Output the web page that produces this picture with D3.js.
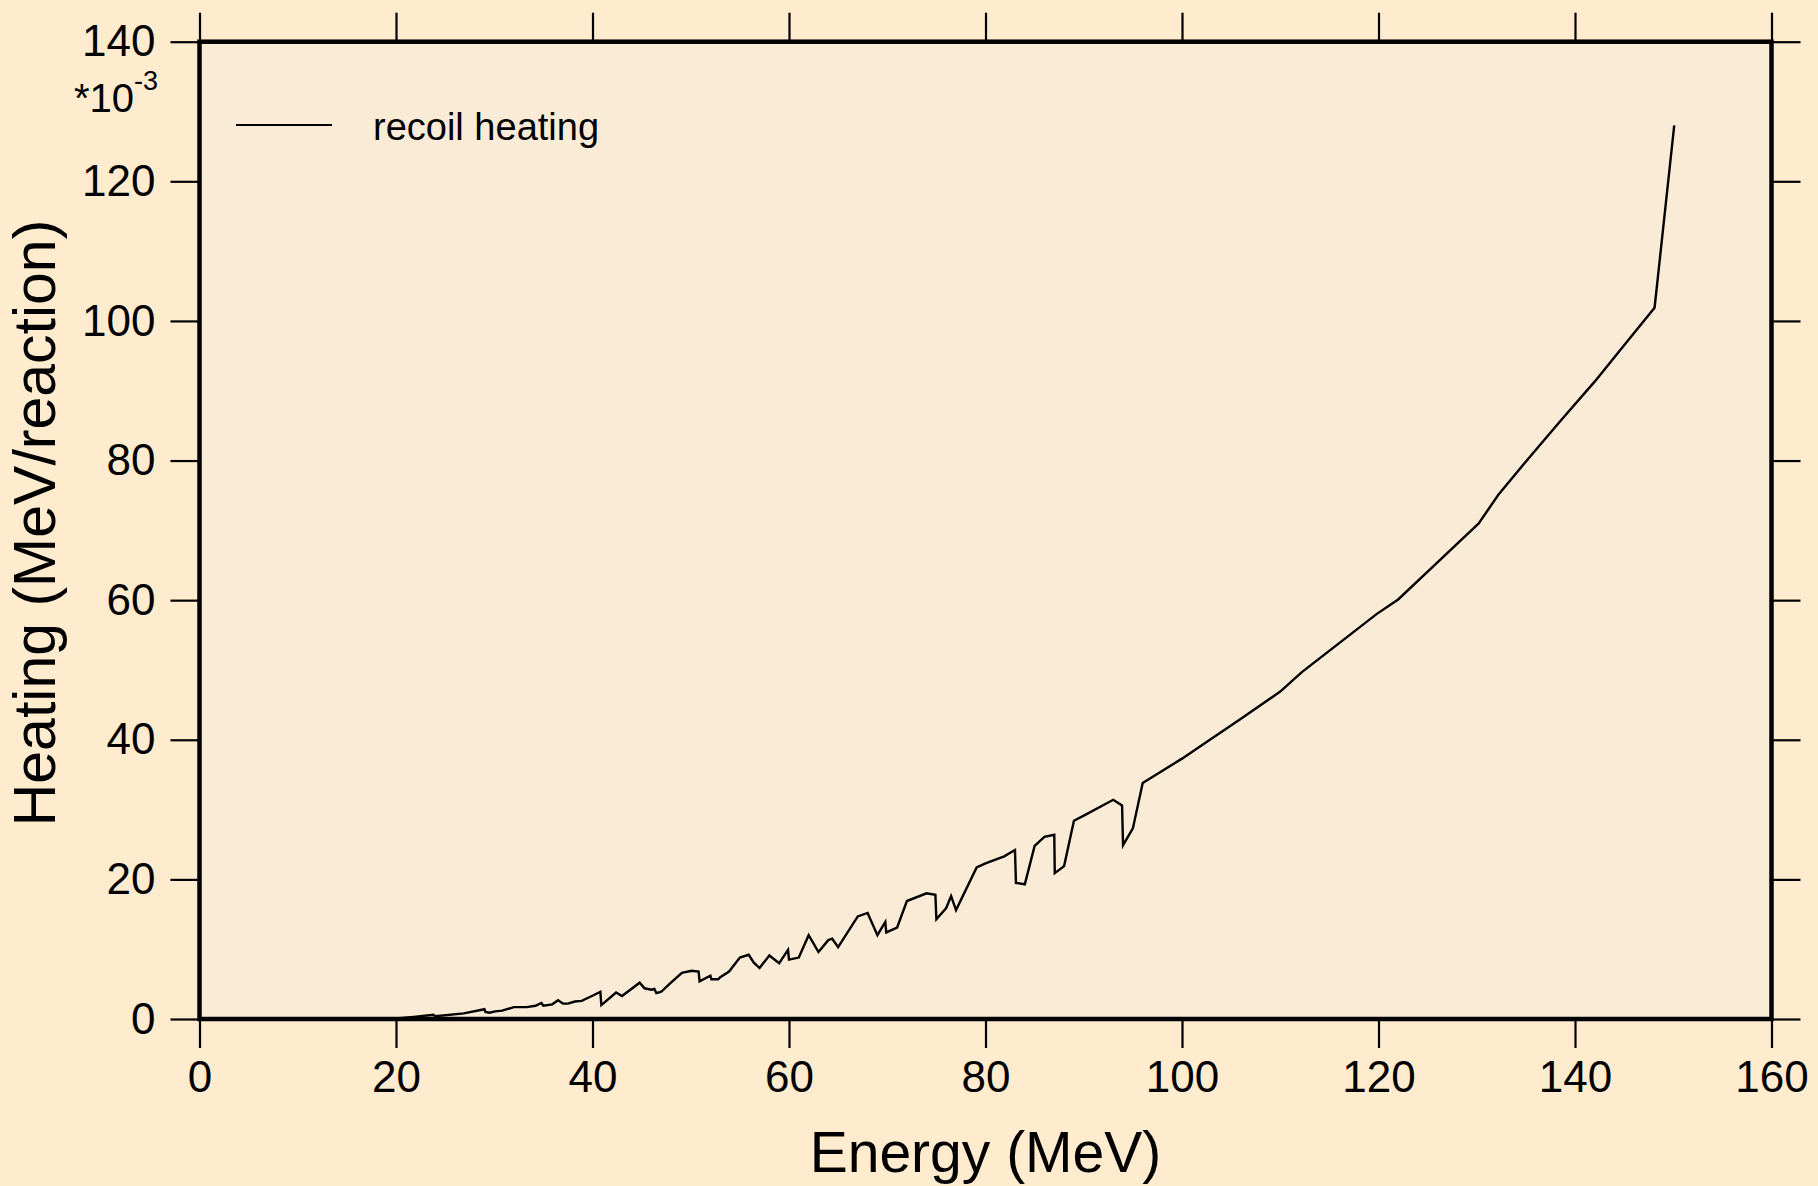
<!DOCTYPE html>
<html>
<head>
<meta charset="utf-8">
<script src="https://cdn.jsdelivr.net/npm/d3@7"></script>
<style>
  html, body { margin: 0; padding: 0; background: #FFEBCD; }
  svg { display: block; font-family: "Liberation Sans", Arial, sans-serif; }
</style>
</head>
<body>
<svg id="chart" width="1818" height="1186"></svg>
<script>
// ---- data ----
const energy = [19.5, 21.8, 23.8, 24.0, 26.9, 29.0, 29.1, 29.5, 30.1, 30.8, 32.0, 33.3, 34.2, 34.8, 35.0, 35.9, 36.5, 37.0, 37.5, 38.2, 38.9,
  40.1, 40.8, 40.9, 42.4, 43.0, 44.8, 45.3, 46.0, 46.3, 46.5, 47.0, 47.9, 49.1, 50.1, 50.8, 50.9, 52.0, 52.1, 52.8, 53.0, 53.9,
  55.0, 55.9, 56.4, 57.0, 58.0, 59.0, 59.9, 60.0, 61.0, 62.0, 63.0, 64.0, 64.4, 65.0, 67.0, 68.0, 69.0, 69.8, 69.9, 71.0, 72.0,
  74.0, 74.9, 75.0, 76.0, 76.5, 77.0, 79.1, 80.0, 81.9, 83.0, 83.1, 84.0, 85.0, 86.0, 87.0, 87.05, 88.0, 89.0, 90.1, 93.0, 93.9,
  94.0, 95.0, 96.0, 100.0, 102.2, 106.0, 110.0, 112.2, 119.8, 122.0, 126.0, 130.2, 132.2, 135.2, 138.6, 142.0, 145.0, 148.1, 150.1];
const heating = [0.0, 0.3, 0.6, 0.4, 0.8, 1.4, 1.0, 0.9, 1.1, 1.2, 1.7, 1.7, 1.9, 2.3, 1.9, 2.1, 2.7, 2.2, 2.2, 2.5, 2.6,
  3.4, 3.9, 2.0, 3.8, 3.3, 5.2, 4.4, 4.2, 4.3, 3.7, 3.9, 5.1, 6.6, 6.9, 6.8, 5.4, 6.2, 5.7, 5.7, 6.0, 6.8,
  8.8, 9.2, 8.1, 7.3, 9.1, 8.0, 9.9, 8.5, 8.8, 12.0, 9.6, 11.3, 11.5, 10.3, 14.7, 15.2, 12.0, 13.9, 12.4, 13.1, 16.9,
  18.0, 17.8, 14.3, 15.9, 17.6, 15.6, 21.7, 22.3, 23.3, 24.2, 19.5, 19.3, 24.8, 26.1, 26.4, 20.9, 21.9, 28.4, 29.2, 31.4, 30.6,
  24.9, 27.3, 33.8, 37.3, 39.4, 43.0, 46.9, 49.7, 58.0, 60.1, 65.4, 71.0, 75.1, 80.2, 85.8, 91.3, 96.5, 101.9, 128.0];
const xTicks = [0, 20, 40, 60, 80, 100, 120, 140, 160];
const yTicks = [0, 20, 40, 60, 80, 100, 120, 140];
const xTitle = "Energy (MeV)";
const yTitle = "Heating (MeV/reaction)";
const legendLabel = "recoil heating";
const multiplierBase = "*10";
const multiplierExp = "-3";

// ---- layout ----
const svg = d3.select("#chart");
const L = 199.5, R = 1771.5, T = 41.7, B = 1019;
const x = d3.scaleLinear().domain([0, 160]).range([L, R]);
const y = d3.scaleLinear().domain([0, 140]).range([B, T]);

svg.append("rect").attr("width", 1818).attr("height", 1186).attr("fill", "#FFEBCD");
svg.append("rect").attr("x", L).attr("y", T).attr("width", R - L).attr("height", B - T).attr("fill", "#FAEBD7");

const tickLen = 29;
function styleAxis(g, showLabels) {
  g.select(".domain").remove();
  g.selectAll(".tick line").attr("stroke", "#000").attr("stroke-width", 2.2);
  g.selectAll(".tick text").attr("fill", "#000").attr("font-size", 44)
    .attr("font-family", "'Liberation Sans', Arial, sans-serif");
  if (!showLabels) g.selectAll(".tick text").remove();
}

svg.append("g").attr("transform", `translate(0,${B})`)
  .call(d3.axisBottom(x).tickValues(xTicks).tickSize(tickLen).tickPadding(13).tickFormat(d3.format("d")))
  .call(g => styleAxis(g, true));
svg.append("g").attr("transform", `translate(0,${T})`)
  .call(d3.axisTop(x).tickValues(xTicks).tickSize(tickLen).tickFormat(""))
  .call(g => styleAxis(g, false));
svg.append("g").attr("transform", `translate(${L},0)`)
  .call(d3.axisLeft(y).tickValues(yTicks).tickSize(tickLen).tickPadding(15).tickFormat(d3.format("d")))
  .call(g => styleAxis(g, true));
svg.append("g").attr("transform", `translate(${R},0)`)
  .call(d3.axisRight(y).tickValues(yTicks).tickSize(tickLen).tickFormat(""))
  .call(g => styleAxis(g, false));

// data line
const pts = energy.map((e, i) => [e, heating[i]]);
svg.append("path").datum(pts)
  .attr("fill", "none").attr("stroke", "#000").attr("stroke-width", 2.4)
  .attr("stroke-linejoin", "miter")
  .attr("d", d3.line().x(d => x(d[0])).y(d => y(d[1])));

// frame
svg.append("rect").attr("x", L).attr("y", T).attr("width", R - L).attr("height", B - T)
  .attr("fill", "none").attr("stroke", "#000").attr("stroke-width", 4.5);

// multiplier label
const mt = svg.append("text").attr("x", 74).attr("y", 112).attr("font-size", 40).attr("fill", "#000");
mt.append("tspan").text(multiplierBase);
mt.append("tspan").attr("dy", -22).attr("font-size", 27).text(multiplierExp);

// legend
svg.append("line").attr("x1", 236).attr("x2", 332).attr("y1", 125).attr("y2", 125)
  .attr("stroke", "#000").attr("stroke-width", 2);
svg.append("text").attr("x", 373).attr("y", 140).attr("font-size", 38).attr("fill", "#000").text(legendLabel);

// axis titles
svg.append("text").attr("x", (L + R) / 2).attr("y", 1172).attr("text-anchor", "middle")
  .attr("font-size", 57).attr("fill", "#000").text(xTitle);
svg.append("text").attr("transform", `translate(55,523) rotate(-90)`).attr("text-anchor", "middle")
  .attr("font-size", 59).attr("fill", "#000").text(yTitle);
</script>
</body>
</html>
